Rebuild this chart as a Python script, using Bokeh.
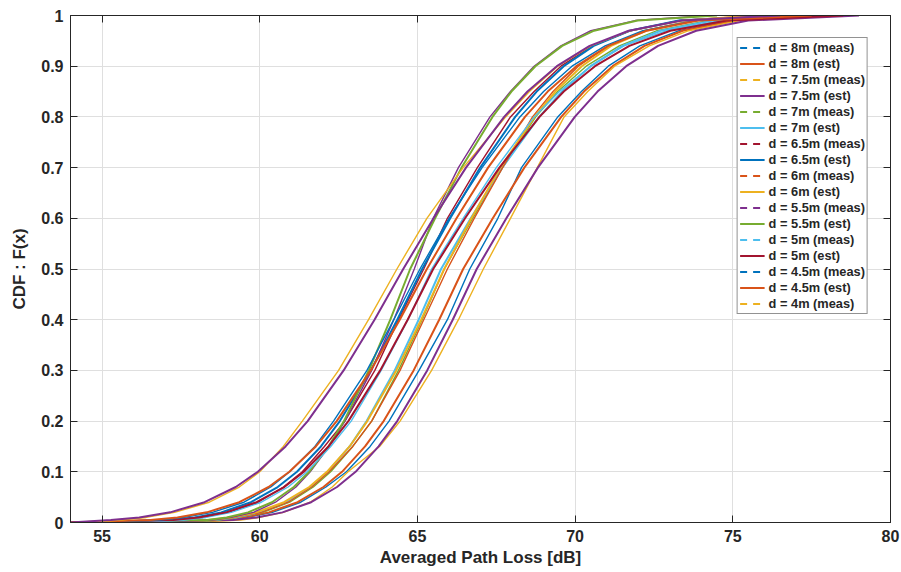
from bokeh.plotting import figure
from bokeh.models import (Range1d, LinearAxis, FixedTicker, CustomJSTickFormatter,
                          Legend, LegendItem)
from bokeh.embed import file_html
from bokeh.resources import INLINE

cdf_levels = [0, 0.005, 0.01, 0.02, 0.04, 0.07, 0.1, 0.15, 0.2, 0.3, 0.4, 0.5,
              0.6, 0.7, 0.8, 0.85, 0.9, 0.94, 0.97, 0.99, 1.0]

# measured curves (x in dB at each cdf level)
meas_8m  = [57.2, 58.9, 59.6, 60.4, 61.3, 62.1, 62.75, 63.5, 64.1, 65.05, 65.95, 66.66, 67.55, 68.30, 69.45, 70.20, 71.05, 72.05, 73.30, 74.90, 77.6]
meas_75m = [57.8, 59.4, 60.0, 60.75, 61.6, 62.3, 62.80, 63.8, 64.45, 65.45, 66.30, 67.09, 67.95, 68.80, 69.65, 70.40, 71.25, 72.35, 73.60, 75.20, 77.9]
meas_7m  = [57.5, 58.7, 59.3, 60.1, 60.95, 61.7, 62.25, 62.95, 63.55, 64.40, 65.15, 65.85, 66.75, 67.70, 68.75, 69.45, 70.35, 71.40, 72.60, 74.20, 76.9]
meas_65m = [56.4, 57.5, 58.2, 59.0, 59.95, 60.75, 61.35, 62.05, 62.70, 63.65, 64.40, 65.20, 65.95, 66.90, 67.95, 68.70, 69.55, 70.55, 71.75, 73.30, 75.8]
meas_6m  = [57.0, 58.5, 59.2, 60.05, 60.9, 61.65, 62.20, 62.95, 63.55, 64.45, 65.20, 65.95, 66.80, 67.70, 68.65, 69.30, 70.10, 71.05, 72.20, 73.70, 76.2]
meas_55m = [56.8, 58.5, 59.1, 59.8, 60.5, 61.15, 61.60, 62.20, 62.70, 63.55, 64.25, 64.90, 65.50, 66.30, 67.30, 67.95, 68.70, 69.55, 70.50, 71.90, 74.2]
meas_5m  = [56.3, 57.6, 58.3, 59.1, 60.05, 60.9, 61.50, 62.25, 62.90, 63.85, 64.70, 65.45, 66.45, 67.50, 68.70, 69.50, 70.50, 71.55, 72.90, 74.60, 77.3]
meas_45m = [55.2, 56.8, 57.6, 58.5, 59.5, 60.35, 60.95, 61.75, 62.34, 63.40, 64.25, 65.08, 66.00, 67.05, 68.25, 69.00, 69.90, 70.95, 72.15, 73.80, 76.4]
meas_4m  = [54.6, 55.6, 56.4, 57.3, 58.4, 59.35, 60.00, 60.75, 61.35, 62.50, 63.45, 64.35, 65.30, 66.45, 67.80, 68.55, 69.45, 70.50, 71.75, 73.40, 75.5]

# estimated curves
est_8m  = [54.0, 58.72, 59.47, 60.29, 61.20, 62.02, 62.61, 63.34, 63.93, 64.88, 65.69, 66.45, 67.39, 68.39, 69.56, 70.28, 71.19, 72.20, 73.41, 75.06, 78.5]
est_75m = [54.0, 59.15, 59.90, 60.72, 61.63, 62.45, 63.04, 63.77, 64.36, 65.31, 66.12, 66.88, 67.82, 68.82, 69.99, 70.71, 71.62, 72.63, 73.84, 75.49, 79.0]
est_7m  = [54.0, 58.54, 59.24, 60.00, 60.85, 61.62, 62.16, 62.85, 63.39, 64.28, 65.04, 65.75, 66.69, 67.69, 68.86, 69.58, 70.49, 71.50, 72.71, 74.36, 78.0]
est_65m = [54.0, 57.16, 57.94, 58.78, 59.72, 60.57, 61.18, 61.94, 62.54, 63.52, 64.36, 65.15, 66.04, 66.99, 68.10, 68.78, 69.64, 70.59, 71.73, 73.29, 76.5]
est_6m  = [54.0, 58.38, 59.10, 59.89, 60.77, 61.57, 62.13, 62.85, 63.41, 64.33, 65.12, 65.85, 66.71, 67.63, 68.71, 69.37, 70.21, 71.14, 72.25, 73.76, 77.0]
est_55m = [54.0, 58.33, 58.95, 59.63, 60.39, 61.08, 61.57, 62.18, 62.67, 63.46, 64.14, 64.77, 65.56, 66.40, 67.38, 67.98, 68.74, 69.59, 70.60, 71.98, 74.5]
est_5m  = [54.0, 57.26, 58.06, 58.93, 59.90, 60.78, 61.40, 62.18, 62.81, 63.82, 64.69, 65.50, 66.51, 67.60, 68.87, 69.64, 70.63, 71.72, 73.02, 74.80, 78.5]
est_45m = [54.0, 56.54, 57.39, 58.32, 59.35, 60.28, 60.94, 61.78, 62.44, 63.52, 64.44, 65.30, 66.24, 67.24, 68.41, 69.13, 70.04, 71.05, 72.26, 73.91, 77.5]
est_4m  = [54.0, 55.28, 56.18, 57.16, 58.25, 59.24, 59.94, 60.82, 61.52, 62.66, 63.64, 64.55, 65.51, 66.54, 67.75, 68.49, 69.42, 70.46, 71.70, 73.39, 76.5]

series_labels = ["d = 8m (meas)", "d = 8m (est)", "d = 7.5m (meas)", "d = 7.5m (est)",
                 "d = 7m (meas)", "d = 7m (est)", "d = 6.5m (meas)", "d = 6.5m (est)",
                 "d = 6m (meas)", "d = 6m (est)", "d = 5.5m (meas)", "d = 5.5m (est)",
                 "d = 5m (meas)", "d = 5m (est)", "d = 4.5m (meas)", "d = 4.5m (est)",
                 "d = 4m (meas)", "d = 4m (est)"]
series_data = [meas_8m, est_8m, meas_75m, est_75m, meas_7m, est_7m, meas_65m, est_65m,
               meas_6m, est_6m, meas_55m, est_55m, meas_5m, est_5m, meas_45m, est_45m,
               meas_4m, est_4m]
palette = ["#0072BD", "#D95319", "#EDB120", "#7E2F8E", "#77AC30", "#4DBEEE", "#A2142F"]

x_ticks = [55, 60, 65, 70, 75, 80]
y_ticks = [0, 0.1, 0.2, 0.3, 0.4, 0.5, 0.6, 0.7, 0.8, 0.9, 1.0]

FONT = "Liberation Sans"
DARK = "#262626"
NAN = float("nan")

p = figure(width=901, height=572, output_backend="svg", toolbar_location=None,
           x_range=Range1d(54, 80), y_range=Range1d(0, 1),
           min_border_left=70, min_border_right=11, min_border_top=15, min_border_bottom=50,
           background_fill_color="white", border_fill_color="white")

p.xaxis.ticker = FixedTicker(ticks=x_ticks)
p.yaxis.ticker = FixedTicker(ticks=y_ticks)
p.yaxis.formatter = CustomJSTickFormatter(code="return Number(tick.toFixed(1)).toString();")
p.xaxis.axis_label = "Averaged Path Loss [dB]"
p.yaxis.axis_label = "CDF : F(x)"

for ax in [p.xaxis[0], p.yaxis[0]]:
    ax.major_tick_in = 7
    ax.major_tick_out = 0
    ax.minor_tick_in = 0
    ax.minor_tick_out = 0
    ax.axis_line_color = DARK
    ax.major_tick_line_color = DARK
    ax.major_label_text_font = FONT
    ax.major_label_text_font_style = "bold"
    ax.major_label_text_font_size = "16px"
    ax.major_label_text_color = DARK
    ax.axis_label_text_font = FONT
    ax.axis_label_text_font_style = "bold"
    ax.axis_label_text_font_size = "17px"
    ax.axis_label_text_color = DARK
p.xaxis.major_label_standoff = 7
p.xaxis.axis_label_standoff = 3
p.yaxis.major_label_standoff = 7
p.yaxis.axis_label_standoff = 9

blank = CustomJSTickFormatter(code="return '';")
top = LinearAxis(ticker=FixedTicker(ticks=x_ticks), formatter=blank,
                 major_tick_in=7, major_tick_out=0, minor_tick_in=0, minor_tick_out=0,
                 major_label_text_font_size="0px", major_label_standoff=0,
                 axis_line_color=DARK, major_tick_line_color=DARK)
right = LinearAxis(ticker=FixedTicker(ticks=y_ticks), formatter=blank,
                   major_tick_in=7, major_tick_out=0, minor_tick_in=0, minor_tick_out=0,
                   major_label_text_font_size="0px", major_label_standoff=0,
                   axis_line_color=DARK, major_tick_line_color=DARK)
p.add_layout(top, "above")
p.add_layout(right, "right")

p.grid.grid_line_color = "#dfdfdf"
p.grid.grid_line_width = 1
p.outline_line_color = DARK

items = []
for i, (lab, xs) in enumerate(zip(series_labels, series_data)):
    color = palette[i % len(palette)]
    is_meas = "meas" in lab
    if is_meas:
        p.line(xs, cdf_levels, line_color=color, line_width=1.4)
        # legend key only (no visible points): dashed as in the reference legend
        key = p.line([NAN], [NAN], line_color=color, line_width=2, line_dash="7 6")
    else:
        key = p.line(xs, cdf_levels, line_color=color, line_width=2)
    if i < 17:
        items.append(LegendItem(label=lab, renderers=[key]))

legend = Legend(items=items, location="top_right", margin=22,
                label_text_font=FONT, label_text_font_style="bold",
                label_text_font_size="12.8px", label_text_color=DARK,
                label_height=15, glyph_height=15, glyph_width=25,
                label_standoff=4, spacing=1, padding=2,
                border_line_color=DARK, border_line_width=1,
                background_fill_color="white", background_fill_alpha=1)
p.add_layout(legend)

open("out.html", "w").write(file_html(p, INLINE))
